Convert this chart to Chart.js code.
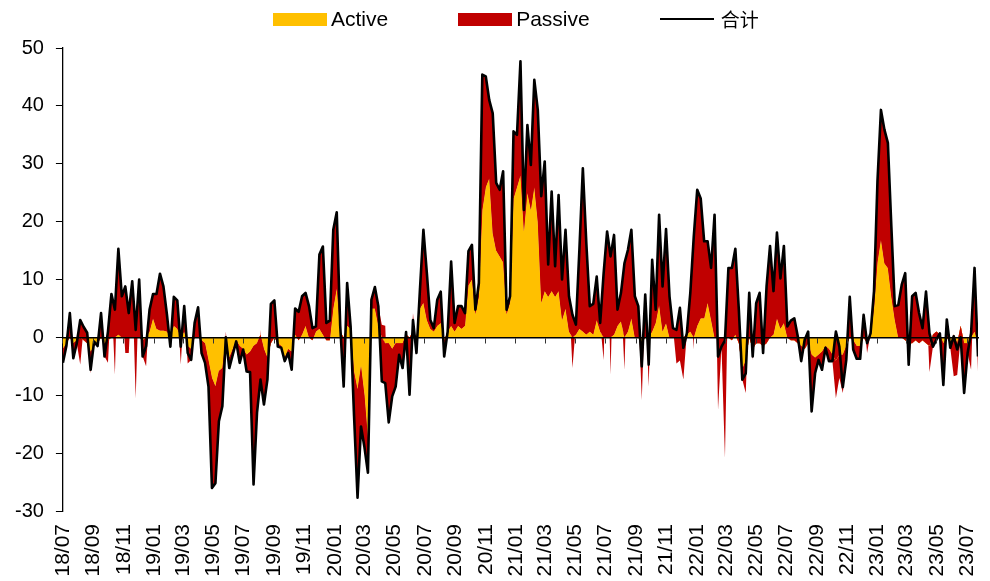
<!DOCTYPE html>
<html>
<head>
<meta charset="utf-8">
<script src="https://cdn.jsdelivr.net/npm/chart.js@4.4.1/dist/chart.umd.min.js"></script>
<style>
body { margin: 0; background: #fff; }
#wrap { position: relative; width: 990px; height: 581px; }
#legend { position: absolute; top: 7px; left: 273px; display: flex; align-items: center;
  font-family: "Liberation Sans", Arial, sans-serif; font-size: 21px; line-height: 24px; color: #000; }
.item { display: flex; align-items: center; margin-right: 70px; }
.sw { display: inline-block; width: 54px; height: 13px; margin-right: 4px; }
.ln { display: inline-block; width: 54px; height: 0; border-top: 2.5px solid #000; margin-right: 7px; }
.cjk { font-family: "Noto Sans CJK SC", sans-serif; font-size: 19px; }
</style>
</head>
<body>
<div id="wrap">
  <canvas id="chart" width="990" height="581"></canvas>
  <div id="legend"></div>
</div>
<script>
// weekly flows, first week starting 2018-07-01
const active = [
  -2, -1, 0, -1, -0.5, 0, -0.5, -1, -2.5, -1.5,
  -1, 0, -1, -0.5, 0, 0, 0.5, 0, 0, 0,
  0, 0, 0, -0.5, 0, 1, 3.3, 1.5, 1.2, 1.2,
  1, 0, 2, 1.5, 0, 1, -1.5, -2, 0, 0,
  -0.5, -1, -4, -7, -8.5, -5.8, -5.3, 0, -3.5, -2,
  -0.5, -1.5, -2, -3, -2.5, -1.5, -1, 0.5, -2, -3.5,
  -1, 0, -1, -1.5, -3.5, -2, -2.5, 0.5, -0.5, 0.5,
  2, 0, -0.5, 1, 1.5, 0.5, -0.5, -0.5, 5, 8.5,
  1, 0, 2, 1.5, -6, -9, -5, -10, -17.5, 5,
  5, 2, 0, -1, -1, -2, -1, -1, -1, 0.5,
  0, 1, 0, 5, 6, 3, 1.5, 1, 2, 2.5,
  -0.5, 1, 2, 1, 2, 1.5, 2, 9, 10, 4,
  7, 22, 26, 27.5, 18, 15, 14, 13, 4, 6,
  24, 26, 28, 18.3, 25, 22, 26, 20, 6, 8,
  7, 8, 7, 8, 3, 5, 1, 0, 0.5, 1.5,
  1, 0.5, 1, 0.5, 3, 1, 0, 0, 0, 0.5,
  2, 2.8, 0, 1, 3.3, 0, 0, -1, 0, 0,
  1, 2.5, 5.6, 1, 2.5, 0, 0, 0, 0, 0,
  0.5, 1, 0, 2, 3.3, 3.3, 6, 3, 0, 0,
  0, 0, 0, -0.5, 0.5, -1, -5.5, -4, 0, -2,
  -1, -1, -1.5, -1, 0, 0.5, 3.3, 1.5, 2.5, 0,
  -0.5, -0.5, -1, -1.5, -2, -1, -3, -3.5, -3, -2.5,
  -1.5, -2, -3, -4, -3, -3, -1.5, 0, -0.5, -1.5,
  -1.5, 0, -1, 0, 5, 13, 16.9, 12.8, 12, 7,
  3, 0, 0, -0.5, -1, -1, -0.5, -1, -0.5, -1,
  -1.5, 0.5, 1, 0.5, -1, 0, -1, 0.5, -1, 2,
  -1, -1, 0, 1, -1
];

const passive = [
  -2.4, -0.5, 4.2, -2.6, -0.5, -4.7, 2.3, 1.8, -3.7, 0.8,
  -0.5, 4.2, -2.3, -3.9, 7.5, -6.4, 14.8, 7.1, -2.7, -2.7,
  9.7, -10.5, 10, -2.8, -5, 3.8, 4.2, 6, 9.8, 7.6,
  3, -1.6, 5, 4.9, -4.7, 4.4, -3, -1.9, 2.5, 5.2,
  -2.2, -3.4, -4.5, -19, -16.7, -8.7, -6.6, 1, -1.8, -1,
  -0.2, -2.9, -0.1, -2.9, -3.5, -23.9, -12, 0.8, -9.6, -3.8,
  6.8, 6.4, -0.6, -0.3, -0.6, -0.7, -3.1, 4.5, 4.9, 6.6,
  5.7, 5.4, 2.1, 0.9, 12.8, 15.2, 3, 3.4, 13.6, 13.1,
  1, -8.5, 7.4, 0.4, -7.6, -18.7, -10.4, -9, -5.9, 1.5,
  3.7, 3.4, 2.2, 3, -13.7, -8.2, -7.5, -2, -4.3, 0.4,
  -9.9, 3.2, -2.7, 3.2, 12.6, 8.1, 1.5, 0.6, 4.5, 5.4,
  -2.8, 0, 11.1, 1.5, 3.4, 3.9, 2.2, 5.9, 6, 0.8,
  2.4, 23.4, 19.1, 13.5, 20.7, 11.7, 11.5, 15.7, 0.8, 1.1,
  11.6, 9, 19.7, 3.7, 11.7, 7.8, 18.5, 19.3, 18.4, 22.4,
  5.6, 17.2, 5.3, 16.6, 7, 13.6, 6.1, -5.3, 1.7, 13.6,
  28.2, 15.8, 4.4, 5.3, 7.5, 1.5, -3.9, 18.3, -6.4, 17.2,
  2.8, 4.9, -5.6, 14.1, 15.3, 7.1, 5.4, -9.8, 7.4, -8.5,
  12.4, 2.3, 15.6, 7.8, 16.2, 7.1, 1.6, -4.5, -4, -7.3,
  0.2, 6.7, -2.1, 23.5, 20.7, 13.3, 10.6, 9, 21.2, -12.5,
  -1.6, -20.8, 12, 12.5, 14.8, 5.8, -1.8, -5.6, 7.7, -1.9,
  6.9, 8.7, -1.2, 9.8, 15.8, 7.5, 14.8, 8.7, 13.3, 1.9,
  3.4, 3.8, 1.2, -2.6, 1.6, 2, -9.8, -2.7, -0.9, -3.1,
  -0.3, -2.1, -1.1, -6.5, -4, -6.6, -2.4, 7, -1.6, -2.2,
  -2.2, 3.9, -1.7, 0.7, 3, 14, 22.4, 23.1, 21.6, 12.2,
  2.4, 5.6, 9.1, 11.6, -3.7, 8.1, 8.2, 5.2, 2.1, 8.9,
  -4.5, -2.1, -1.4, 0.2, -7.2, 3.1, -0.8, -7.2, -5.5, -2,
  -8.6, -1.7, -5.6, 11, -4.9
];

const total = [
  -4.4, -1.5, 4.2, -3.6, -1, 3, 1.8, 0.8, -5.6, -0.7,
  -1.5, 4.2, -3.3, 1, 7.5, 4.8, 15.3, 7.1, 8.8, 4.2,
  9.7, 1.3, 10, -3.3, -1.5, 4.8, 7.5, 7.5, 11, 8.8,
  4, -1.6, 7, 6.4, -1.6, 5.4, -2.7, -3.9, 2.5, 5.2,
  -2.7, -4.4, -8.5, -26, -25.2, -14.5, -11.9, 0, -5.3, -3,
  -0.7, -4.4, -2.1, -5.9, -6, -25.4, -13, -7.3, -11.6, -7.3,
  5.8, 6.4, -1.6, -1.8, -4.1, -2.7, -5.6, 5, 4.4, 7.1,
  7.7, 5.4, 1.6, 1.9, 14.3, 15.7, 2.5, 2.9, 18.6, 21.6,
  2, -8.5, 9.4, 1.9, -13.6, -27.7, -15.4, -19, -23.4, 6.5,
  8.7, 5.4, -7.6, -7.9, -14.7, -10.2, -8.5, -3, -5.3, 0.9,
  -9.9, 3, -2.7, 8.2, 18.6, 11.1, 3, 1.6, 6.5, 7.9,
  -3.3, 1, 13.1, 2.5, 5.4, 5.4, 4.2, 14.9, 16, 4.8,
  9.4, 45.4, 45.1, 41, 38.7, 26.7, 25.5, 28.7, 4.8, 7.1,
  35.6, 35, 47.7, 22, 36.7, 29.8, 44.5, 39.3, 24.4, 30.4,
  12.6, 25.2, 12.3, 24.6, 10, 18.6, 7.1, 3.9, 2.2, 15.1,
  29.2, 16.3, 5.4, 5.8, 10.5, 2.5, 11.1, 18.3, 14, 17.7,
  4.8, 7.7, 12.8, 15.1, 18.6, 7.1, 5.4, -5, 7.4, -4.7,
  13.4, 4.8, 21.2, 8.8, 18.7, 7.1, 1.6, 1.3, 5.1, -1.8,
  0.7, 7.7, 17.4, 25.5, 24, 16.6, 16.6, 12, 21.2, -3.3,
  -1.6, -0.5, 12, 12, 15.3, 4.8, -7.3, -6.2, 7.7, -3.3,
  5.9, 7.7, -2.7, 8.8, 15.8, 8, 18.1, 10.2, 15.8, 1.9,
  2.9, 3.3, 0.2, -4.1, -0.4, 1, -12.8, -6.2, -3.9, -5.6,
  -1.8, -4.1, -4.1, 1, -1.6, -8.6, -3.9, 7, -2.1, -3.7,
  -3.7, 3.9, -1, 0.7, 8, 27, 39.3, 35.9, 33.6, 19.2,
  5.4, 5.6, 9.1, 11.1, -4.7, 7.1, 7.7, 4.2, 1.6, 7.9,
  0.7, -1.6, -0.4, 0.7, -8.2, 3.1, -1.8, 0.2, -2.1, 0,
  -9.6, -2.7, 0.7, 12, -3.3
];

const tickLabels = [
  '18/07', '18/09', '18/11', '19/01', '19/03', '19/05', '19/07', '19/09', '19/11',
  '20/01', '20/03', '20/05', '20/07', '20/09', '20/11', '21/01', '21/03', '21/05',
  '21/07', '21/09', '21/11', '22/01', '22/03', '22/05', '22/07', '22/09', '22/11',
  '23/01', '23/03', '23/05', '23/07'
];

const DAY = 86400000;
const start = Date.UTC(2018, 6, 1);
// x value of each week = days since start
const weekDays = total.map((v, i) => i * 7);
const tickDays = tickLabels.map(l => {
  const [yy, mm] = l.split('/');
  return (Date.UTC(2000 + +yy, +mm - 1, 1) - start) / DAY;
});
const xMax = weekDays[weekDays.length - 1];

const YELLOW = '#FFC000';
const RED = '#C00000';
const toPoints = arr => arr.map((v, i) => ({ x: weekDays[i], y: v }));
const setTicks = scale => { scale.ticks = tickDays.map(v => ({ value: v })); };

Chart.defaults.font.family = '"Liberation Sans", Arial, sans-serif';
Chart.defaults.color = '#000';

const chart = new Chart(document.getElementById('chart'), {
  type: 'line',
  data: {
    datasets: [
      {
        label: 'Active', data: toPoints(active), stack: 'ap',
        backgroundColor: YELLOW, borderWidth: 0, pointRadius: 0,
        fill: 'origin', order: 0
      },
      {
        label: 'Passive', data: toPoints(passive), stack: 'ap',
        backgroundColor: RED, borderWidth: 0, pointRadius: 0,
        fill: '-1', order: 0
      },
      {
        label: '合计', data: toPoints(total), stack: 'tot',
        borderColor: '#000', borderWidth: 2.6, borderJoinStyle: 'round',
        backgroundColor: RED, pointRadius: 0,
        fill: { target: 0, above: RED, below: RED }, order: -1
      }
    ]
  },
  options: {
    responsive: false,
    animation: false,
    layout: { padding: { top: 48, right: 12, bottom: 4, left: 3 } },
    plugins: { legend: { display: false }, tooltip: { enabled: false } },
    elements: { line: { tension: 0 } },
    scales: {
      x: {
        type: 'linear', min: 0, max: xMax,
        afterBuildTicks: setTicks,
        afterFit: s => { s.height = 66; s.paddingLeft = 0; s.paddingRight = 0; },
        grid: { display: false, drawTicks: false },
        border: { display: false },
        ticks: {
          autoSkip: false, minRotation: 90, maxRotation: 90, padding: 13,
          font: { size: 21 },
          callback: (v, i) => tickLabels[i]
        }
      },
      x0: {
        type: 'linear', position: { y: 0 }, min: 0, max: xMax,
        afterBuildTicks: setTicks,
        ticks: { display: false },
        grid: { drawOnChartArea: false, tickLength: 5, color: '#333', z: 1 },
        border: { color: '#000', width: 1.5, z: 1 }
      },
      y: {
        min: -30, max: 50, stacked: 'single',
        ticks: { stepSize: 10, padding: 12, font: { size: 20 } },
        grid: { drawOnChartArea: false, tickLength: 7, color: '#000' },
        border: { color: '#000', width: 1.3 }
      }
    }
  }
});

// html legend built from the datasets
const legend = document.getElementById('legend');
chart.data.datasets.forEach(ds => {
  const item = document.createElement('span');
  item.className = 'item';
  const mark = document.createElement('span');
  const text = document.createElement('span');
  text.textContent = ds.label;
  if (ds.stack === 'tot') {
    mark.className = 'ln';
    text.className = 'cjk';
  } else {
    mark.className = 'sw';
    mark.style.background = ds.backgroundColor;
  }
  item.appendChild(mark);
  item.appendChild(text);
  legend.appendChild(item);
});
</script>
</body>
</html>
